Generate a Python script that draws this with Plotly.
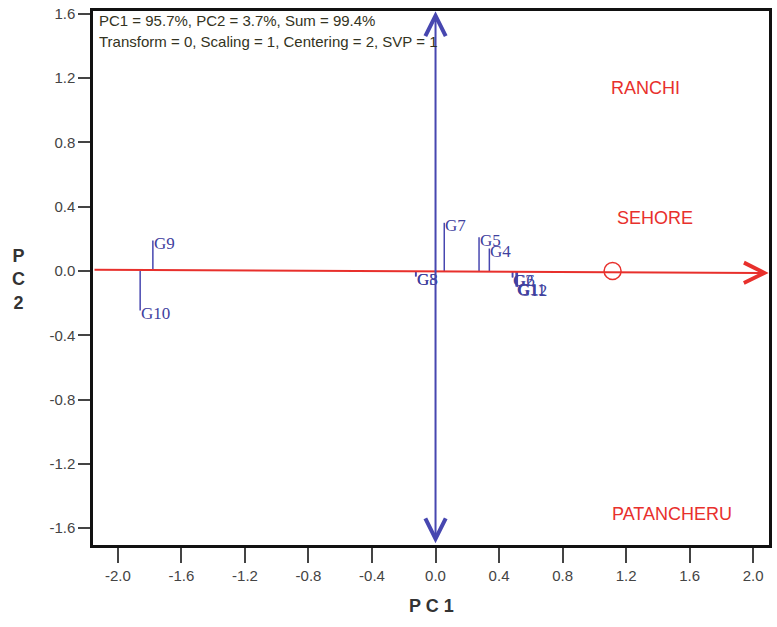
import plotly.graph_objects as go

# ---- data ----
genotypes = ["G9", "G10", "G7", "G5", "G4", "G3", "G8", "G2", "G6", "G1", "G11", "G12"]
geno_pc1 = [-1.78, -1.86, 0.055, 0.274, 0.339, -0.123, -0.125, 0.484, 0.486, 0.510, 0.508, 0.515]
geno_pc2 = [0.19, -0.245, 0.30, 0.21, 0.14, -0.034, -0.034, -0.04, -0.04, -0.096, -0.096, -0.10]

environments = ["RANCHI", "SEHORE", "PATANCHERU"]
env_pc1 = [1.32, 1.38, 1.49]
env_pc2 = [1.14, 0.33, -1.51]

avg_env_pc1 = [1.115]
avg_env_pc2 = [0.0]

x_range = [-2.157, 2.10]
y_range = [-1.705, 1.618]
tick_vals = [-2.0, -1.6, -1.2, -0.8, -0.4, 0.0, 0.4, 0.8, 1.2, 1.6, 2.0]
tick_text = ["-2.0", "-1.6", "-1.2", "-0.8", "-0.4", "0.0", "0.4", "0.8", "1.2", "1.6", "2.0"]

info_lines = ["PC1 = 95.7%, PC2 = 3.7%, Sum = 99.4%",
              "Transform = 0, Scaling = 1, Centering = 2, SVP = 1"]

BLUE = "#4747B0"
BLUE_TXT = "#40409E"
RED = "#E8302C"

fig = go.Figure()

# projection lines of genotypes onto the average-environment axis
lx, ly = [], []
for x, y in zip(geno_pc1, geno_pc2):
    lx += [x, x, None]
    ly += [0, y, None]
fig.add_trace(go.Scatter(x=lx, y=ly, mode="lines", line=dict(color=BLUE, width=1.5),
                         hoverinfo="skip", showlegend=False))

# average environment circle
fig.add_trace(go.Scatter(x=avg_env_pc1, y=avg_env_pc2, mode="markers",
                         marker=dict(symbol="circle-open", size=17, color=RED,
                                     line=dict(width=1.5, color=RED)),
                         showlegend=False))

annotations = []
# genotype labels
for g, x, y in zip(genotypes, geno_pc1, geno_pc2):
    annotations.append(dict(x=x, y=y, text=g, showarrow=False, xanchor="left",
                            yanchor="middle", yshift=-3, xshift=-1,
                            font=dict(family="Liberation Serif", size=17, color=BLUE_TXT)))
# environment labels
for e, x, y in zip(environments, env_pc1, env_pc2):
    annotations.append(dict(x=x, y=y, text=e, showarrow=False, xanchor="center", yanchor="middle",
                            font=dict(family="Liberation Sans", size=18, color=RED)))

# red average-environment axis arrow
annotations.append(dict(x=x_range[1] - 0.002, y=-0.012, ax=x_range[0], ay=0.008,
                        xref="x", yref="y", axref="x", ayref="y", text="",
                        showarrow=True, arrowhead=5, arrowsize=2.0, arrowwidth=2,
                        arrowcolor=RED))
# blue double-headed vertical arrow
annotations.append(dict(x=0.0, y=y_range[1] - 0.002, ax=0.0, ay=y_range[0] + 0.002,
                        xref="x", yref="y", axref="x", ayref="y", text="",
                        showarrow=True, arrowhead=5, startarrowhead=5, arrowside="end+start",
                        arrowsize=2.0, startarrowsize=2.0, arrowwidth=2, arrowcolor=BLUE))

# info text
for i, t in enumerate(info_lines):
    annotations.append(dict(x=0.006, y=1 - 0.0185 - i * 0.038, xref="paper", yref="paper",
                            text=t, showarrow=False, xanchor="left", yanchor="middle",
                            font=dict(family="Liberation Sans", size=15, color="#333322")))

# axis titles
annotations.append(dict(x=0.5, y=-0.115, xref="paper", yref="paper", text="<b>P C 1</b>",
                        showarrow=False, yanchor="middle",
                        font=dict(family="Liberation Sans", size=18, color="#333")))
annotations.append(dict(x=-0.11, y=0.497, xref="paper", yref="paper", text="<b>P<br>C<br>2</b>",
                        showarrow=False, xanchor="center", yanchor="middle",
                        font=dict(family="Liberation Sans", size=18, color="#333")))

axis_common = dict(showgrid=False, zeroline=False, showline=True, mirror=True,
                   linecolor="#111", linewidth=2.5, ticks="outside", tickcolor="#444",
                   tickwidth=2, tickvals=tick_vals, ticktext=tick_text,
                   tickfont=dict(family="Liberation Sans", size=15, color="#444"))

fig.update_layout(
    width=777, height=627,
    margin=dict(l=93, r=5, t=10, b=82),
    plot_bgcolor="white", paper_bgcolor="white",
    xaxis=dict(range=x_range, ticklen=15, **axis_common),
    yaxis=dict(range=y_range, ticklen=12, **axis_common),
    annotations=annotations,
    showlegend=False,
)

fig.write_html("out.html")
